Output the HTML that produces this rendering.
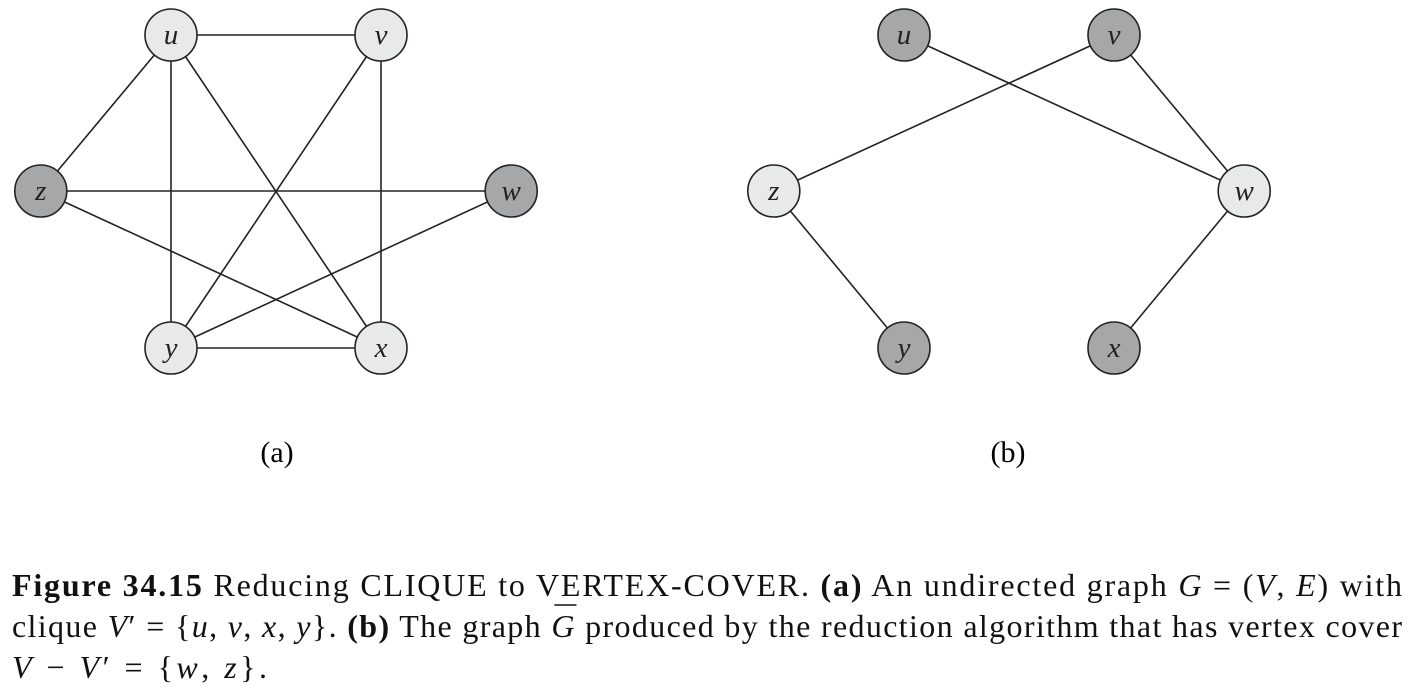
<!DOCTYPE html>
<html><head><meta charset="utf-8"><style>
html,body{margin:0;padding:0;background:#fff;}
svg{display:block;font-family:"Liberation Serif",serif;}
</style></head><body>
<svg width="1414" height="698" viewBox="0 0 1414 698">
<g id="ga"></g>
<g id="gb"></g>
<text x="277" y="462" font-size="30" text-anchor="middle">(a)</text>
<text x="1008" y="462" font-size="30" text-anchor="middle">(b)</text>
<g font-size="32" fill="#111">
<text x="12" y="596" textLength="1390" lengthAdjust="spacing"><tspan font-weight="bold">Figure 34.15</tspan>     Reducing CLIQUE to VERTEX-COVER. <tspan font-weight="bold">(a)</tspan> An undirected graph <tspan font-style="italic">G</tspan> = (<tspan font-style="italic">V</tspan>, <tspan font-style="italic">E</tspan>) with</text>
<text id="line2" x="12" y="637" textLength="1390" lengthAdjust="spacing">clique <tspan font-style="italic">V</tspan>′ = {<tspan font-style="italic">u</tspan>, <tspan font-style="italic">v</tspan>, <tspan font-style="italic">x</tspan>, <tspan font-style="italic">y</tspan>}. <tspan font-weight="bold">(b)</tspan> The graph <tspan font-style="italic">G</tspan> produced by the reduction algorithm that has vertex cover</text>
<line id="gbar" x1="578" y1="605" x2="597" y2="605" stroke="#111" stroke-width="1.5"/>
<text x="12" y="678" textLength="255" lengthAdjust="spacing"><tspan font-style="italic">V</tspan> − <tspan font-style="italic">V</tspan>′ = {<tspan font-style="italic">w</tspan>, <tspan font-style="italic">z</tspan>}.</text>
</g>
</svg>
<script>
const nodeNames = ['u','v','z','w','y','x'];
const nodeCol = [0,1,-0.62,1.62,0,1];
const nodeRow = [0,0,1,1,2,2];
const edgesA = [['u','v'],['u','z'],['u','y'],['u','x'],['v','y'],['v','x'],['z','w'],['z','x'],['w','y'],['y','x']];
const edgesB = [['u','w'],['v','z'],['v','w'],['z','y'],['w','x']];
const darkA = ['z','w'];
const darkB = ['u','v','y','x'];
const NS='http://www.w3.org/2000/svg';
function px(i,ox){return ox+nodeCol[i]*210;}
function py(i){return [35,191,348][nodeRow[i]];}
function draw(g,ox,edges,dark,tag){
  const idx=n=>nodeNames.indexOf(n);
  edges.forEach(e=>{
    const l=document.createElementNS(NS,'line');
    const a=idx(e[0]),b=idx(e[1]);
    l.setAttribute('x1',px(a,ox));l.setAttribute('y1',py(a));
    l.setAttribute('x2',px(b,ox));l.setAttribute('y2',py(b));
    l.setAttribute('stroke','#222');l.setAttribute('stroke-width','1.6');
    
    
    g.appendChild(l);
  });
  nodeNames.forEach((n,i)=>{
    const c=document.createElementNS(NS,'circle');
    c.setAttribute('cx',px(i,ox));c.setAttribute('cy',py(i));c.setAttribute('r',26);
    c.setAttribute('fill',dark.includes(n)?'#a6a7a9':'#e8e9e9');
    c.setAttribute('stroke','#222');c.setAttribute('stroke-width','1.6');
    
    
    g.appendChild(c);
    const t=document.createElementNS(NS,'text');
    t.setAttribute('x',px(i,ox));t.setAttribute('y',py(i)+9);
    t.setAttribute('text-anchor','middle');t.setAttribute('font-size','29');
    t.setAttribute('font-style','italic');t.setAttribute('fill','#222');
    t.textContent=n;
    
    
    g.appendChild(t);
  });
}
draw(document.getElementById('ga'),171,edgesA,darkA,'a');
draw(document.getElementById('gb'),904,edgesB,darkB,'b');
try{
  const t=document.getElementById('line2');
  const s=t.textContent;
  const k=s.indexOf('graph G')+6;
  const p0=t.getStartPositionOfChar(k), p1=t.getEndPositionOfChar(k);
  const bar=document.getElementById('gbar');
  bar.setAttribute('x1',p0.x+3);bar.setAttribute('x2',p1.x+2);
}catch(e){}
</script>
</body></html>
